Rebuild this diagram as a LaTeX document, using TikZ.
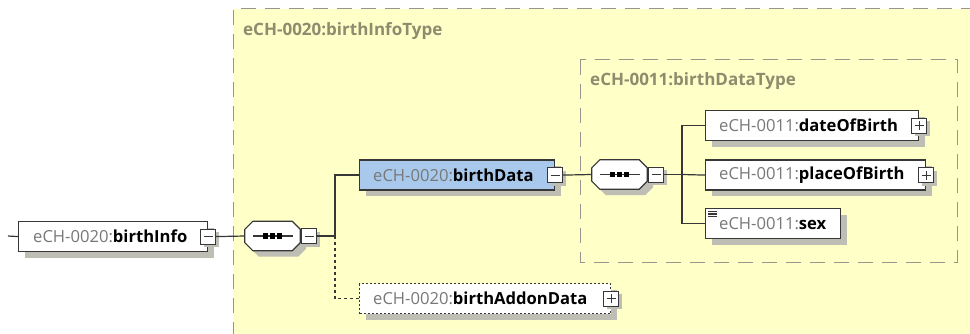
\documentclass[tikz,border=0pt]{standalone}
\usepackage{fontspec}
\setmainfont{Open Sans}
\usetikzlibrary{calc,shadows}
\definecolor{bgyellow}{RGB}{255,255,200}
\definecolor{framegray}{RGB}{150,150,140}
\definecolor{typelabel}{RGB}{140,140,110}
\definecolor{pfxgray}{RGB}{120,120,120}
\definecolor{boxline}{RGB}{55,55,55}
\definecolor{shadowgray}{RGB}{190,190,180}
\definecolor{bluefill}{RGB}{168,200,236}
\newcommand\pfx[1]{{\color{pfxgray}#1}}
\newcommand\nm[1]{{\bfseries\color{black}#1}}
\newcommand\octpath[2]{($(#1.north west)+(8,0)+(#2)$) -- ($(#1.north east)+(-8,0)+(#2)$) -- ($(#1.north east)+(0,8)+(#2)$) -- ($(#1.south east)+(0,-8)+(#2)$) -- ($(#1.south east)+(-8,0)+(#2)$) -- ($(#1.south west)+(8,0)+(#2)$) -- ($(#1.south west)+(0,-8)+(#2)$) -- ($(#1.north west)+(0,8)+(#2)$) -- cycle}
\begin{document}
\begin{tikzpicture}[x=1pt,y=-1pt,
  font=\fontsize{16.6}{18}\selectfont,
  elem/.style={draw=boxline, line width=1.2pt, fill=white, minimum height=30pt, inner sep=0pt, anchor=north west,
    drop shadow={shadow xshift=6pt, shadow yshift=-6pt, fill=shadowgray, opacity=1}},
  xbox/.style={draw=boxline, fill=white, minimum size=15pt, inner sep=0pt, line width=0.9pt,
    drop shadow={shadow xshift=3pt, shadow yshift=-3pt, fill=shadowgray, opacity=1}},
  minusbox/.style={xbox, path picture={\draw[boxline,line width=0.9pt] ([xshift=3pt]path picture bounding box.west) -- ([xshift=-3pt]path picture bounding box.east);}},
  plusbox/.style={xbox, path picture={\draw[boxline,line width=0.9pt] ([xshift=3pt]path picture bounding box.west) -- ([xshift=-3pt]path picture bounding box.east);
     \draw[boxline,line width=0.9pt] ([yshift=-3pt]path picture bounding box.north) -- ([yshift=3pt]path picture bounding box.south);}},
  lbl/.style={anchor=west, inner sep=0pt},
  seq/.style={minimum width=55pt, minimum height=29pt, inner sep=0pt},
  octo/.style={draw=boxline, line width=1.2pt, fill=white},
  conn/.style={draw=boxline, line width=1.2pt},
  frame/.style={draw=framegray, line width=1pt, dash pattern=on 15pt off 9pt},
  typelbl/.style={anchor=west, inner sep=0pt, text=typelabel, font=\fontsize{17}{18}\selectfont\bfseries}
]
\useasboundingbox (0,0) rectangle (970,334);
\fill[white] (0,0) rectangle (970,334);
\begin{scope}
\clip (0,0) rectangle (970,334);
% outer type container
\fill[bgyellow] (233,9) rectangle (1000,360);
\draw[frame] (1000,9) -- (233,9) -- (233,360);
\node[typelbl] (t1) at (243,31) {eCH-0020:birthInfoType};
% inner type container
\draw[frame] (580,60) rectangle (957,262);
\node[typelbl] (t2) at (590,81) {eCH-0011:birthDataType};
\end{scope}

% birthInfo
\node[elem, minimum width=189pt] (bi) at (18,221) {};
\node[lbl] (bit) at ($(bi.west)+(15,0)$) {\pfx{eCH-0020:}\nm{birthInfo}};
\node[minusbox] (bix) at (bi.east) {};
\coordinate (start) at (8,236);
\draw[conn] (start) -- (bi.west);

% sequence 1
\node[seq] (s1) at (272.5,236) {};
\fill[shadowgray] \octpath{s1}{6,6};
\draw[octo] \octpath{s1}{0,0};
\draw[boxline, line width=1.2pt] ($(s1.west)+(8,0)$) -- ($(s1.east)+(-7,0)$);
\foreach \i in {-1,0,1} \fill[black] ($(s1.center)+(\i*7,0)$) +(-2.6,-2.6) rectangle +(2.6,2.6);
\node[minusbox] (s1x) at ($(s1.east)+(9,0)$) {};
\draw[conn] (bix.east) -- (s1.west);
\coordinate (j1) at (335,236);
\draw[conn] (s1x.east) -- (j1);

% birthData
\node[elem, minimum width=195pt, fill=bluefill] (bd) at (359,159.5) {};
\node[lbl] (bdt) at ($(bd.west)+(14,0)$) {\pfx{eCH-0020:}\nm{birthData}};
\node[minusbox] (bdx) at (bd.east) {};
\draw[conn] (j1) |- (bd.west);

% birthAddonData
\node[elem, minimum width=251pt, dash pattern=on 2pt off 2pt] (bad) at (359,283) {};
\node[lbl] (badt) at ($(bad.west)+(14,0)$) {\pfx{eCH-0020:}\nm{birthAddonData}};
\node[plusbox] (badx) at (bad.east) {};
\draw[conn, dash pattern=on 3pt off 3pt] (j1) |- (bad.west);

% sequence 2
\node[seq] (s2) at (619.5,174.5) {};
\fill[shadowgray] \octpath{s2}{6,6};
\draw[octo] \octpath{s2}{0,0};
\draw[boxline, line width=1.2pt] ($(s2.west)+(8,0)$) -- ($(s2.east)+(-7,0)$);
\foreach \i in {-1,0,1} \fill[black] ($(s2.center)+(\i*7,0)$) +(-2.6,-2.6) rectangle +(2.6,2.6);
\node[minusbox] (s2x) at ($(s2.east)+(9,0)$) {};
\draw[conn] (bdx.east) -- (s2.west);
\coordinate (j2) at (682,174.5);
\draw[conn] (s2x.east) -- (j2);

% dateOfBirth
\node[elem, minimum width=213pt] (dob) at (705,110) {};
\node[lbl] (dobt) at ($(dob.west)+(14,0)$) {\pfx{eCH-0011:}\nm{dateOfBirth}};
\node[plusbox] (dobx) at (dob.east) {};
\draw[conn] (j2) |- (dob.west);

% placeOfBirth
\node[elem, minimum width=220pt] (pob) at (705,159.5) {};
\node[lbl] (pobt) at ($(pob.west)+(14,0)$) {\pfx{eCH-0011:}\nm{placeOfBirth}};
\node[plusbox] (pobx) at (pob.east) {};
\draw[conn] (j2) -- (pob.west);

% sex
\node[elem, minimum width=135pt] (sex) at (705,208) {};
\node[lbl] (sext) at ($(sex.west)+(14,0)$) {\pfx{eCH-0011:}\nm{sex}};
\foreach \k in {0,1.6,3.2,4.8} \draw[boxline, line width=0.8pt] ($(sex.north west)+(3,3.5+\k)$) -- +(9,0);
\draw[conn] (j2) |- (sex.west);
\end{tikzpicture}
\end{document}
